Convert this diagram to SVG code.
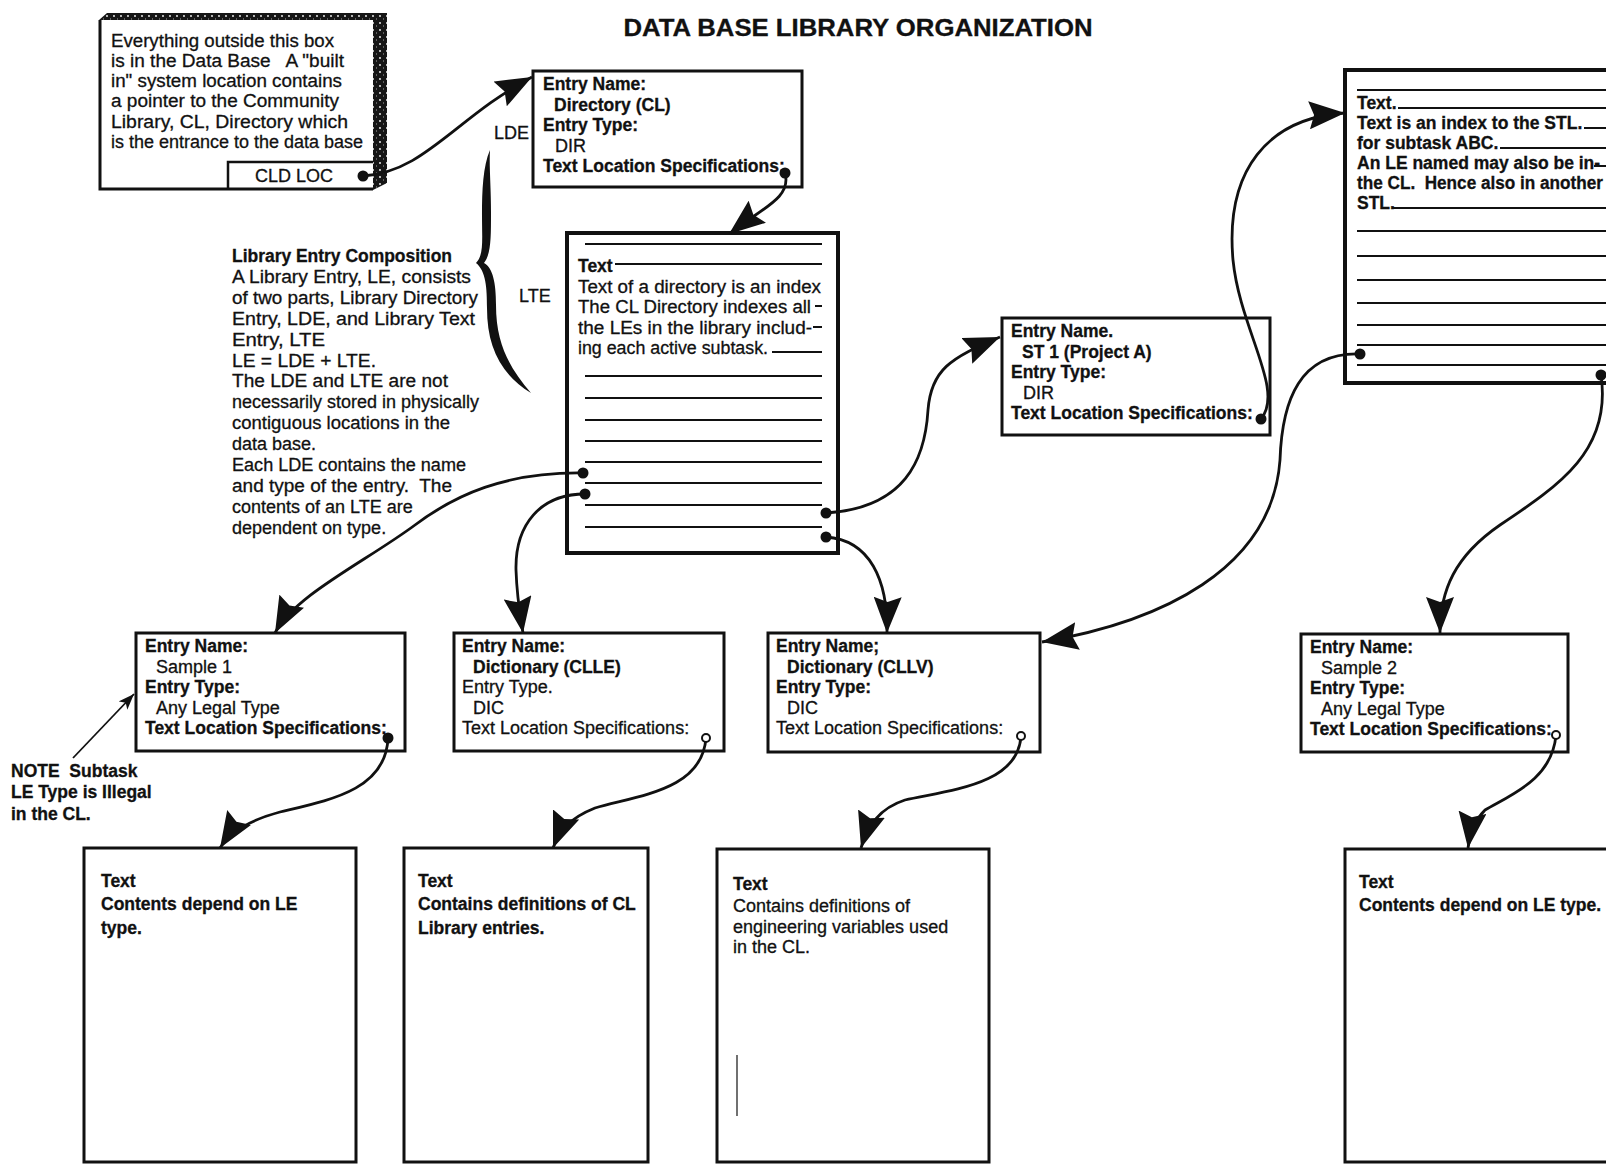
<svg xmlns="http://www.w3.org/2000/svg" width="1606" height="1164" viewBox="0 0 1606 1164">
  <style>
    .t{font-family:"Liberation Sans",Arial,sans-serif;font-size:18px;fill:#111;stroke:#111;stroke-width:0.3px}
    .b{font-weight:bold;font-size:17.5px}
    .title{font-weight:bold;font-size:23px}
    .box{fill:#fff;stroke:#111;stroke-width:3}
    .lte{fill:#fff;stroke:#111;stroke-width:4}
    .ln{stroke:#111;stroke-width:2;fill:none}
    .con{fill:none;stroke:#111;stroke-width:2.8}
    .thin{fill:none;stroke:#111;stroke-width:1.8}
  </style>
  <defs>
    <pattern id="speck" width="7" height="7" patternUnits="userSpaceOnUse">
      <rect width="7" height="7" fill="#161616"/>
      <circle cx="2" cy="2" r="0.9" fill="#fff"/>
      <rect x="5" y="4.5" width="1" height="1" fill="#aaa"/>
    </pattern>
    <marker id="head" viewBox="0 0 36 28" refX="36" refY="14" markerWidth="36" markerHeight="28" markerUnits="userSpaceOnUse" orient="auto">
      <path d="M0,0 L36,14 L0,28 L5,14 Z" fill="#111"/>
    </marker>
    <marker id="small" viewBox="0 0 16 12" refX="16" refY="6" markerWidth="16" markerHeight="12" markerUnits="userSpaceOnUse" orient="auto">
      <path d="M0,0 L16,6 L0,12 L4,6 Z" fill="#111"/>
    </marker>
    <marker id="dot" viewBox="0 0 12 12" refX="6" refY="6" markerWidth="12" markerHeight="12" markerUnits="userSpaceOnUse">
      <circle cx="6" cy="6" r="5.5" fill="#111"/>
    </marker>
    <marker id="ring" viewBox="0 0 12 12" refX="6" refY="6" markerWidth="12" markerHeight="12" markerUnits="userSpaceOnUse">
      <circle cx="6" cy="6" r="4" fill="#fff" stroke="#111" stroke-width="2"/>
    </marker>
  </defs>

  <rect width="1606" height="1164" fill="#fff"/>

  <text class="t title" x="858" y="36" text-anchor="middle" textLength="469" lengthAdjust="spacingAndGlyphs">DATA BASE LIBRARY ORGANIZATION</text>

  <!-- system location box with raised frame -->
  <g id="system-box">
    <path d="M99,20 L107,13 L387,13 L387,183 L373,190 L373,20 Z" fill="url(#speck)"/>
    <path d="M100,20 L100,189 L373,189" fill="none" stroke="#111" stroke-width="3"/>
    <text class="t" x="111" y="47" textLength="223" lengthAdjust="spacingAndGlyphs">Everything outside this box</text>
    <text class="t" x="111" y="67" xml:space="preserve" textLength="233" lengthAdjust="spacingAndGlyphs">is in the Data Base   A "built</text>
    <text class="t" x="111" y="87" textLength="231" lengthAdjust="spacingAndGlyphs">in" system location contains</text>
    <text class="t" x="111" y="107" textLength="228" lengthAdjust="spacingAndGlyphs">a pointer to the Community</text>
    <text class="t" x="111" y="128" textLength="237" lengthAdjust="spacingAndGlyphs">Library, CL, Directory which</text>
    <text class="t" x="111" y="148" textLength="252" lengthAdjust="spacingAndGlyphs">is the entrance to the data base</text>
    <path d="M228,189 L228,162 L373,162" fill="none" stroke="#111" stroke-width="2.5"/>
    <text class="t" x="294" y="182" text-anchor="middle">CLD LOC</text>
  </g>

  <!-- library entry composition note with brace -->
  <g id="composition">
    <text class="t" x="494" y="139">LDE</text>
    <text class="t" x="519" y="302">LTE</text>
    <path d="M490,150 C483,166 482,190 482,215 C482,240 484,255 476,263 C486,271 487,288 487,308 C487,346 500,374 531,393 C510,368 496,345 496,305 C496,283 493,268 484,263 C491,254 491,238 491,213 C491,186 489,165 490,150 Z" fill="#111"/>
    <text class="t b" x="232" y="262" textLength="220" lengthAdjust="spacingAndGlyphs">Library Entry Composition</text>
    <text class="t" x="232" y="282.9" textLength="239" lengthAdjust="spacingAndGlyphs">A Library Entry, LE, consists</text>
    <text class="t" x="232" y="303.8" textLength="246" lengthAdjust="spacingAndGlyphs">of two parts, Library Directory</text>
    <text class="t" x="232" y="324.7" textLength="243" lengthAdjust="spacingAndGlyphs">Entry, LDE, and Library Text</text>
    <text class="t" x="232" y="345.6" textLength="93" lengthAdjust="spacingAndGlyphs">Entry, LTE</text>
    <text class="t" x="232" y="366.5" textLength="144" lengthAdjust="spacingAndGlyphs">LE = LDE + LTE.</text>
    <text class="t" x="232" y="387.4" textLength="216" lengthAdjust="spacingAndGlyphs">The LDE and LTE are not</text>
    <text class="t" x="232" y="408.3" textLength="247" lengthAdjust="spacingAndGlyphs">necessarily stored in physically</text>
    <text class="t" x="232" y="429.2" textLength="218" lengthAdjust="spacingAndGlyphs">contiguous locations in the</text>
    <text class="t" x="232" y="450.1">data base.</text>
    <text class="t" x="232" y="471" textLength="234" lengthAdjust="spacingAndGlyphs">Each LDE contains the name</text>
    <text class="t" x="232" y="491.9" xml:space="preserve" textLength="220" lengthAdjust="spacingAndGlyphs">and type of the entry.  The</text>
    <text class="t" x="232" y="512.8">contents of an LTE are</text>
    <text class="t" x="232" y="533.7">dependent on type.</text>
  </g>

  <!-- CL directory entry -->
  <g id="lde-directory">
    <rect class="box" x="533" y="71" width="269" height="116"/>
    <text class="t b" x="543" y="90">Entry Name:</text>
    <text class="t b" x="554" y="111">Directory (CL)</text>
    <text class="t b" x="543" y="131">Entry Type:</text>
    <text class="t" x="555" y="151.5">DIR</text>
    <text class="t b" x="543" y="172">Text Location Specifications:</text>
  </g>

  <g id="lte-directory">
    <rect class="lte" x="567" y="233" width="271" height="320"/>
    <path class="ln" d="M585,244 H822 M615,264 H822 M815,306 H822 M813,327 H822 M772,352 H822 M585,376 H822 M585,398 H822 M585,420 H822 M585,441 H822 M585,462 H822 M585,483 H822 M585,505 H822 M585,527 H822"/>
    <text class="t b" x="578" y="272">Text</text>
    <text class="t" x="578" y="292.5" textLength="243" lengthAdjust="spacingAndGlyphs">Text of a directory is an index</text>
    <text class="t" x="578" y="313" textLength="233" lengthAdjust="spacingAndGlyphs">The CL Directory indexes all</text>
    <text class="t" x="578" y="333.5" textLength="234" lengthAdjust="spacingAndGlyphs">the LEs in the library includ-</text>
    <text class="t" x="578" y="354" textLength="190" lengthAdjust="spacingAndGlyphs">ing each active subtask.</text>
  </g>

  <g id="lde-st1">
    <rect class="box" x="1002" y="318" width="268" height="117"/>
    <text class="t b" x="1011" y="337">Entry Name.</text>
    <text class="t b" x="1022" y="358">ST 1 (Project A)</text>
    <text class="t b" x="1011" y="378">Entry Type:</text>
    <text class="t" x="1023" y="398.5">DIR</text>
    <text class="t b" x="1011" y="419">Text Location Specifications:</text>
  </g>

  <g id="lte-st1">
    <rect class="lte" x="1345" y="70" width="280" height="313"/>
    <path class="ln" d="M1357,90 H1606 M1398,108 H1606 M1584,128 H1606 M1500,148 H1606 M1594,166 H1606 M1393,208 H1606 M1357,231 H1606 M1357,256 H1606 M1357,280 H1606 M1357,303 H1606 M1357,325 H1606 M1357,345 H1606 M1357,365 H1606"/>
    <text class="t b" x="1357" y="109">Text.</text>
    <text class="t b" x="1357" y="129">Text is an index to the STL.</text>
    <text class="t b" x="1357" y="149">for subtask ABC.</text>
    <text class="t b" x="1357" y="169">An LE named may also be in-</text>
    <text class="t b" x="1357" y="189" xml:space="preserve" textLength="246" lengthAdjust="spacingAndGlyphs">the CL.  Hence also in another</text>
    <text class="t b" x="1357" y="209">STL.</text>
  </g>

  <g id="lde-sample1">
    <rect class="box" x="136" y="633" width="269" height="118"/>
    <text class="t b" x="145" y="652">Entry Name:</text>
    <text class="t" x="156" y="673">Sample 1</text>
    <text class="t b" x="145" y="693">Entry Type:</text>
    <text class="t" x="156" y="713.5">Any Legal Type</text>
    <text class="t b" x="145" y="734">Text Location Specifications:</text>
  </g>

  <g id="lde-clle">
    <rect class="box" x="454" y="633" width="270" height="118"/>
    <text class="t b" x="462" y="652">Entry Name:</text>
    <text class="t b" x="473" y="673">Dictionary (CLLE)</text>
    <text class="t" x="462" y="693">Entry Type.</text>
    <text class="t" x="473" y="713.5">DIC</text>
    <text class="t" x="462" y="734">Text Location Specifications:</text>
  </g>

  <g id="lde-cllv">
    <rect class="box" x="768" y="633" width="272" height="119"/>
    <text class="t b" x="776" y="652">Entry Name;</text>
    <text class="t b" x="787" y="673">Dictionary (CLLV)</text>
    <text class="t b" x="776" y="693">Entry Type:</text>
    <text class="t" x="787" y="713.5">DIC</text>
    <text class="t" x="776" y="734">Text Location Specifications:</text>
  </g>

  <g id="lde-sample2">
    <rect class="box" x="1301" y="634" width="267" height="118"/>
    <text class="t b" x="1310" y="653">Entry Name:</text>
    <text class="t" x="1321" y="674">Sample 2</text>
    <text class="t b" x="1310" y="694">Entry Type:</text>
    <text class="t" x="1321" y="714.5">Any Legal Type</text>
    <text class="t b" x="1310" y="735">Text Location Specifications:</text>
  </g>

  <g id="note">
    <text class="t b" x="11" y="777" xml:space="preserve">NOTE  Subtask</text>
    <text class="t b" x="11" y="798">LE Type is Illegal</text>
    <text class="t b" x="11" y="820">in the CL.</text>
  </g>

  <g id="lte-sample1">
    <rect class="box" x="84" y="848" width="272" height="314"/>
    <text class="t b" x="101" y="887">Text</text>
    <text class="t b" x="101" y="910">Contents depend on LE</text>
    <text class="t b" x="101" y="934">type.</text>
  </g>

  <g id="lte-clle">
    <rect class="box" x="404" y="848" width="244" height="314"/>
    <text class="t b" x="418" y="887">Text</text>
    <text class="t b" x="418" y="910">Contains definitions of CL</text>
    <text class="t b" x="418" y="934">Library entries.</text>
  </g>

  <g id="lte-cllv">
    <rect class="box" x="717" y="849" width="272" height="313"/>
    <text class="t b" x="733" y="890">Text</text>
    <text class="t" x="733" y="912">Contains definitions of</text>
    <text class="t" x="733" y="933">engineering variables used</text>
    <text class="t" x="733" y="953">in the CL.</text>
    <path d="M737,1055 V1116" stroke="#111" stroke-width="1.2"/>
  </g>

  <g id="lte-sample2">
    <rect class="box" x="1345" y="849" width="280" height="313"/>
    <text class="t b" x="1359" y="888">Text</text>
    <text class="t b" x="1359" y="911">Contents depend on LE type.</text>
  </g>

  <!-- pointers -->
  <g id="connectors">
    <path class="con" marker-start="url(#dot)" marker-end="url(#head)" d="M363,176 C425,172 455,118 532,77"/>
    <path class="con" marker-start="url(#dot)" marker-end="url(#head)" d="M785,173 C792,198 762,208 729,234"/>
    <path class="con" marker-start="url(#dot)" marker-end="url(#head)" d="M583,473 C505,472 455,495 415,525 C365,562 295,595 275,633"/>
    <path class="con" marker-start="url(#dot)" marker-end="url(#head)" d="M585,494 C540,494 515,525 516,570 C517,600 521,620 523,633"/>
    <path class="con" marker-start="url(#dot)" marker-end="url(#head)" d="M826,513 C905,508 925,460 928,410 C931,370 950,358 1000,337"/>
    <path class="con" marker-start="url(#dot)" marker-end="url(#head)" d="M826,537 C870,540 888,580 887,633"/>
    <path class="con" marker-start="url(#dot)" marker-end="url(#head)" d="M1261,419 C1285,390 1240,330 1233,260 C1225,170 1268,118 1345,113"/>
    <path class="con" marker-start="url(#dot)" marker-end="url(#head)" d="M1360,354 C1300,352 1282,400 1280,460 C1272,570 1160,622 1042,642"/>
    <path class="con" marker-start="url(#dot)" marker-end="url(#head)" d="M1601,375 C1612,450 1560,485 1500,525 C1455,556 1440,590 1440,633"/>
    <path class="con" marker-start="url(#dot)" marker-end="url(#head)" d="M388,738 C386,790 330,800 280,812 C250,820 230,832 220,848"/>
    <path class="con" marker-start="url(#ring)" marker-end="url(#head)" d="M706,738 C702,790 640,795 595,808 C570,818 560,830 553,848"/>
    <path class="con" marker-start="url(#ring)" marker-end="url(#head)" d="M1021,736 C1018,785 950,790 905,800 C880,808 868,825 861,848"/>
    <path class="con" marker-start="url(#ring)" marker-end="url(#head)" d="M1556,735 C1552,780 1510,795 1485,810 C1475,820 1470,832 1468,848"/>
    <path class="thin" marker-end="url(#small)" d="M73,758 L134,694"/>
  </g>
</svg>
